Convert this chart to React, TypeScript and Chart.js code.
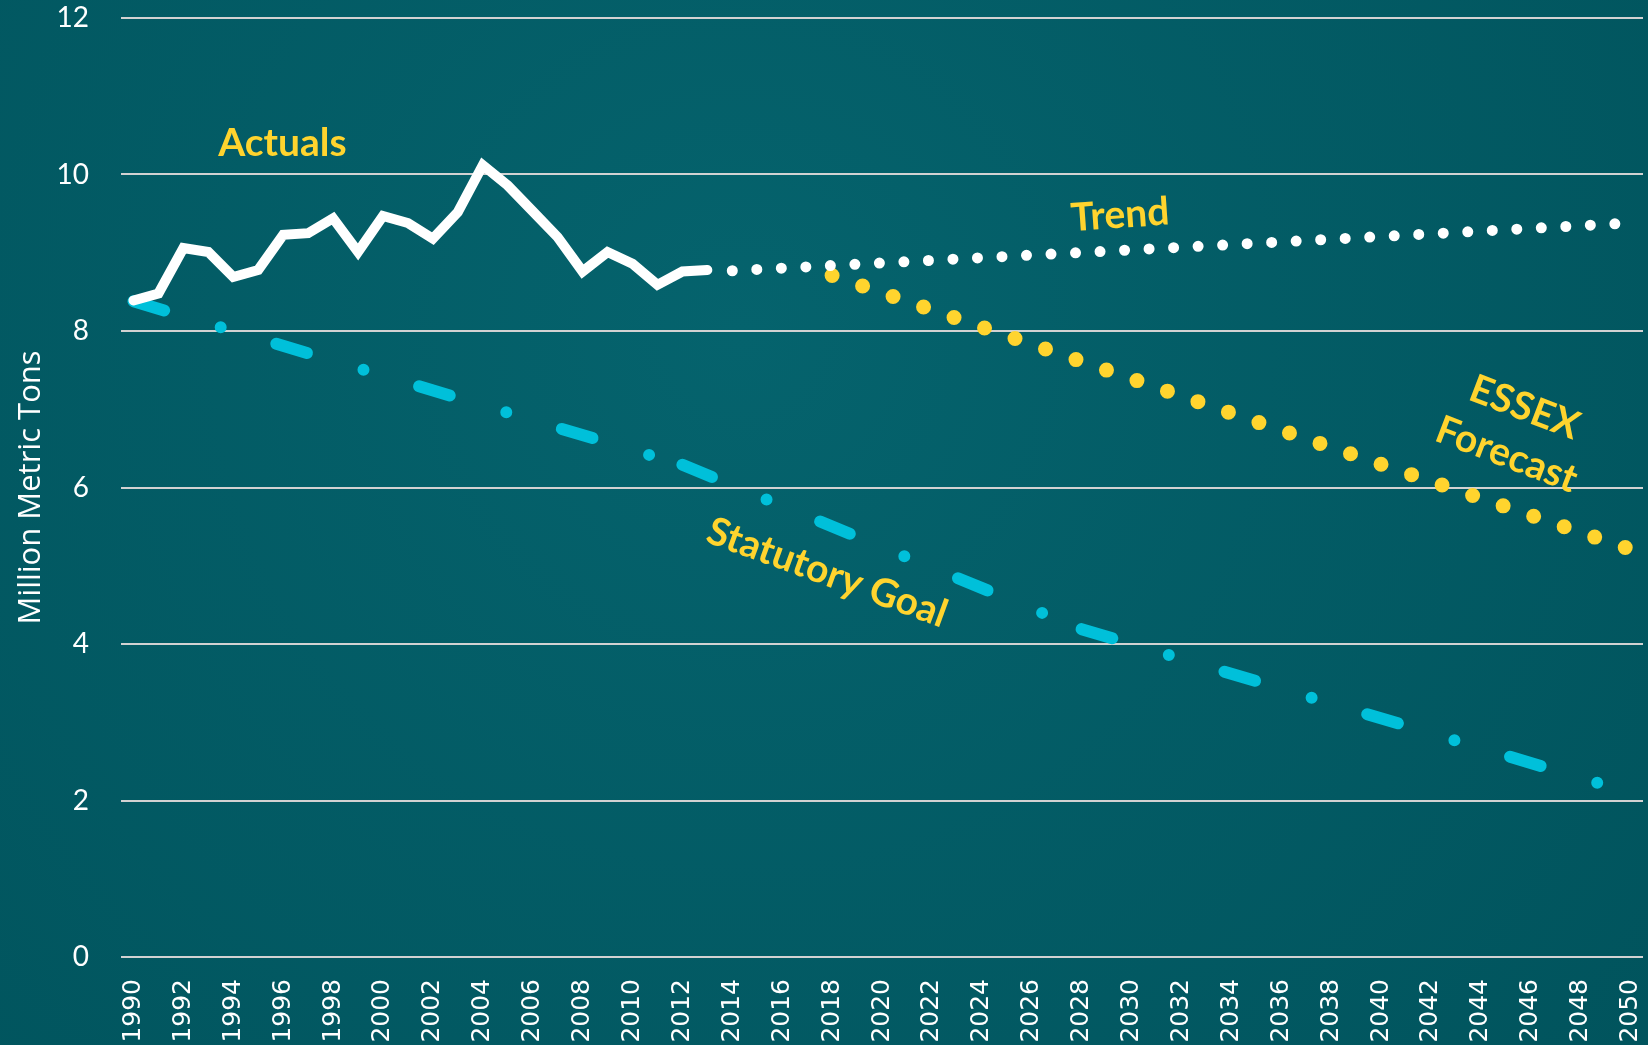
import React, { useEffect, useRef } from 'react';
import { Chart, registerables } from 'chart.js';

Chart.register(...registerables);

// ---------- data ----------
const years = [
  '1990', '1991', '1992', '1993', '1994', '1995', '1996', '1997', '1998', '1999',
  '2000', '2001', '2002', '2003', '2004', '2005', '2006', '2007', '2008', '2009',
  '2010', '2011', '2012', '2013', '2014', '2015', '2016', '2017', '2018', '2019',
  '2020', '2021', '2022', '2023', '2024', '2025', '2026', '2027', '2028', '2029',
  '2030', '2031', '2032', '2033', '2034', '2035', '2036', '2037', '2038', '2039',
  '2040', '2041', '2042', '2043', '2044', '2045', '2046', '2047', '2048', '2049',
  '2050',
];

// Actuals 1990..2013
const actualValues = [
  8.39, 8.48, 9.06, 9.01, 8.69, 8.78, 9.23, 9.25, 9.44, 9.01,
  9.47, 9.38, 9.18, 9.52, 10.12, 9.86, 9.53, 9.2, 8.76, 9.01,
  8.86, 8.59, 8.76, 8.78,
];

const trendYears = [2014, 2032, 2050];
const trendValues = [8.77, 9.07, 9.38];

const forecastYears = [2018, 2034, 2050];
const forecastValues = [8.71, 6.95, 5.21];

// statutory goal milestones (each leg drawn as its own segment)
const goalYears = [1990, 2012, 2028, 2050];
const goalValues = [8.38, 6.29, 4.19, 2.1];

const yMin = 0;
const yMax = 12;
const yStep = 2;

// ---------- helpers ----------
function sparse(ys: number[], vs: number[]) {
  const arr: (number | null)[] = years.map(() => null);
  ys.forEach((y, i) => {
    const idx = years.indexOf(String(y));
    if (idx >= 0) arr[idx] = vs[i];
  });
  return arr;
}

function padded(vs: number[]) {
  return years.map((_, i) => (i < vs.length ? vs[i] : null));
}

const YELLOW = '#FFD42E';
const CYAN = '#00C0DA';

const bgPlugin = {
  id: 'bgGradient',
  beforeDraw(chart: any) {
    const { ctx, width, height } = chart;
    const cx = width * 0.45;
    const cy = height * 0.32;
    const g = ctx.createRadialGradient(cx, cy, 0, cx, cy, width * 0.78);
    g.addColorStop(0, '#05636D');
    g.addColorStop(1, '#00525B');
    ctx.save();
    ctx.fillStyle = g;
    ctx.fillRect(0, 0, width, height);
    ctx.restore();
  },
};

// annotation anchors in (category index, value) units
const annotations = [
  { text: 'Actuals', idx: 5.97, val: 10.4, rot: 0 },
  { text: 'Trend', idx: 39.54, val: 9.48, rot: -4 },
  { text: 'Statutory Goal', idx: 27.8, val: 4.91, rot: 20 },
  { text: 'ESSEX', idx: 55.75, val: 7.02, rot: 21 },
  { text: 'Forecast', idx: 55.03, val: 6.42, rot: 21 },
];

const labelPlugin = {
  id: 'annotLabels',
  afterDatasetsDraw(chart: any) {
    const { ctx } = chart;
    const xs = chart.scales.x;
    const ys = chart.scales.y;
    ctx.save();
    ctx.fillStyle = YELLOW;
    ctx.font = 'bold 39px Lato';
    ctx.textAlign = 'center';
    ctx.textBaseline = 'middle';
    annotations.forEach((a) => {
      const px = xs.getPixelForValue(a.idx);
      const py = ys.getPixelForValue(a.val);
      ctx.save();
      ctx.translate(px, py);
      ctx.rotate((a.rot * Math.PI) / 180);
      ctx.fillText(a.text, 0, 0);
      ctx.restore();
    });
    ctx.restore();
  },
};

const goalDatasets = goalYears.slice(0, -1).map((y, i) => ({
  label: 'Statutory Goal ' + (i + 1),
  data: sparse([y, goalYears[i + 1]], [goalValues[i], goalValues[i + 1]]),
  borderColor: CYAN,
  borderWidth: 12,
  borderDash: [32, 59, 0, 58],
  borderCapStyle: 'round',
  pointRadius: 0,
  tension: 0,
  spanGaps: true,
  fill: false,
}));

export default function App() {
  const canvasRef = useRef<HTMLCanvasElement | null>(null);

  useEffect(() => {
    if (!canvasRef.current) return;
    const chart = new Chart(canvasRef.current, {
      type: 'line',
      data: {
        labels: years,
        datasets: [
          {
            label: 'Actuals',
            data: padded(actualValues),
            borderColor: '#FFFFFF',
            borderWidth: 10,
            borderJoinStyle: 'miter',
            borderCapStyle: 'round',
            pointRadius: 0,
            tension: 0,
            fill: false,
          },
          {
            label: 'Trend',
            data: sparse(trendYears, trendValues),
            borderColor: '#FFFFFF',
            borderWidth: 11,
            borderDash: [0, 24.55],
            borderCapStyle: 'round',
            pointRadius: 0,
            tension: 0,
            spanGaps: true,
            fill: false,
          },
          {
            label: 'ESSEX Forecast',
            data: sparse(forecastYears, forecastValues),
            borderColor: YELLOW,
            borderWidth: 15,
            borderDash: [0, 32.25],
            borderCapStyle: 'round',
            pointRadius: 0,
            tension: 0,
            spanGaps: true,
            fill: false,
          },
          ...goalDatasets,
        ],
      },
      options: {
        responsive: false,
        animation: false,
        devicePixelRatio: 1,
        layout: { padding: { left: 0, top: 18, right: 5, bottom: 0 } },
        plugins: {
          legend: { display: false },
          tooltip: { enabled: false },
        },
        scales: {
          x: {
            type: 'category',
            offset: true,
            grid: { display: false, drawTicks: false },
            border: { display: false },
            ticks: {
              autoSkip: false,
              maxRotation: 90,
              minRotation: 90,
              padding: 22,
              color: '#FFFFFF',
              font: { family: 'DejaVu Sans', size: 25 },
              callback: (_v: any, i: number) => (i % 2 === 0 ? years[i] : ''),
            },
            afterFit(scale: any) {
              scale.height = 88;
              scale.paddingLeft = 0;
              scale.paddingRight = 0;
            },
          },
          y: {
            min: yMin,
            max: yMax,
            grid: { color: '#D2D2D2', lineWidth: 2, drawTicks: false },
            border: { display: false },
            ticks: {
              stepSize: yStep,
              padding: 32,
              color: '#FFFFFF',
              font: { family: 'Lato', size: 28 },
            },
            title: {
              display: true,
              text: 'Million Metric Tons',
              color: '#FFFFFF',
              font: { family: 'Open Sans', size: 31 },
              padding: { top: 13, bottom: 0 },
            },
            afterFit(scale: any) {
              scale.width = 121;
              scale.paddingTop = 0;
              scale.paddingBottom = 0;
            },
          },
        },
      },
      plugins: [bgPlugin, labelPlugin],
    } as any);
    return () => chart.destroy();
  }, []);

  return (
    <div style={{ position: 'fixed', left: 0, top: 0, width: 1648, height: 1045 }}>
      <canvas ref={canvasRef} width={1648} height={1045} />
    </div>
  );
}
